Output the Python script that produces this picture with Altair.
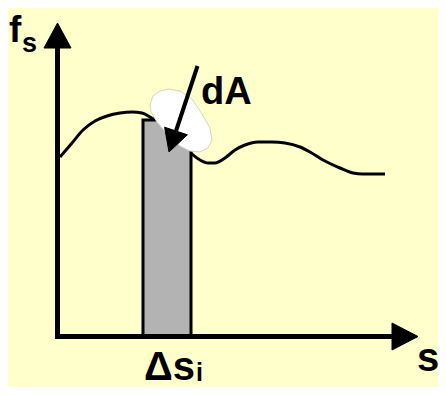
import altair as alt
import pandas as pd

# ---- data (s, f_s units; origin at the axes corner) ----
curve_s = [2, 14, 25, 37, 49, 62, 74, 84, 92, 107, 122, 134, 142, 150, 157, 167, 177, 187,
           200, 214, 227, 242, 252, 265, 282, 295, 305, 327]
curve_f = [179, 193, 206, 215, 220, 223, 224, 223, 219, 209, 196, 182, 176, 173, 173, 178, 186, 191,
           194, 194, 193, 189, 184, 176, 168, 163, 162, 162]

bar_s0 = [85]
bar_s1 = [133]
bar_f = [216]

blob_s = [92, 95, 102, 110, 122, 134, 144, 152, 154, 150, 142, 132, 122, 110, 99, 93]
blob_f = [231, 240, 245, 247, 245, 237, 222, 208, 196, 188, 184, 185, 190, 201, 214, 224]

arrow_s = [139.5, 118]
arrow_f = [270, 205]
head_s = [106.6, 111, 129.4]
head_f = [208.8, 184, 201.2]

yhead_s = [-14, -0.5, 13]
yhead_f = [288, 313, 288]
xhead_s = [334, 360, 334]
xhead_f = [13, -0.5, -14]

labels = ["f", "s", "dA", "Δs", "i", "s"]
label_s = [-49, -36, 143, 86, 138, 359]
label_f = [294, 284, 232, -44, -45, -35]
label_size = [37, 27, 38, 40, 25, 40]

X = dict(scale=alt.Scale(domain=[-50, 380], nice=False, zero=False), axis=None)
Y = dict(scale=alt.Scale(domain=[-51, 328], nice=False, zero=False), axis=None)


def polygon(xs, ys, fill, stroke, sw):
    df = pd.DataFrame({"x": xs, "y": ys, "o": list(range(len(xs)))})
    return alt.Chart(df).mark_line(
        fill=fill, stroke=stroke, strokeWidth=sw, interpolate="linear-closed"
    ).encode(x=alt.X("x:Q", **X), y=alt.Y("y:Q", **Y), order="o:Q")


curve = alt.Chart(pd.DataFrame({"x": curve_s, "y": curve_f})).mark_line(
    color="black", strokeWidth=3, interpolate="monotone"
).encode(x=alt.X("x:Q", **X), y=alt.Y("y:Q", **Y))

bar = alt.Chart(pd.DataFrame({"x": bar_s0, "x2": bar_s1, "y": bar_f, "y2": [0]})).mark_rect(
    fill="#b3b3b3", stroke="black", strokeWidth=3
).encode(x=alt.X("x:Q", **X), x2="x2:Q", y=alt.Y("y:Q", **Y), y2="y2:Q")

blob = polygon(blob_s, blob_f, "white", "#d4d4c0", 1)
head = polygon(head_s, head_f, "black", "black", 1)
yhead = polygon(yhead_s, yhead_f, "black", "black", 1)
xhead = polygon(xhead_s, xhead_f, "black", "black", 1)

shaft = alt.Chart(pd.DataFrame({"x": arrow_s, "y": arrow_f})).mark_line(
    color="black", strokeWidth=4
).encode(x=alt.X("x:Q", **X), y=alt.Y("y:Q", **Y))

yaxis = alt.Chart(pd.DataFrame({"x": [-0.5], "y": [-2.5], "y2": [290]})).mark_rule(
    color="black", strokeWidth=5
).encode(x=alt.X("x:Q", **X), y=alt.Y("y:Q", **Y), y2="y2:Q")

xaxis = alt.Chart(pd.DataFrame({"x": [-3], "x2": [336], "y": [-0.5]})).mark_rule(
    color="black", strokeWidth=5
).encode(x=alt.X("x:Q", **X), x2="x2:Q", y=alt.Y("y:Q", **Y))

text = alt.Chart(pd.DataFrame({"x": label_s, "y": label_f, "t": labels, "size": label_size})).mark_text(
    align="left", baseline="alphabetic", font="Liberation Sans", fontWeight="bold", color="black"
).encode(x=alt.X("x:Q", **X), y=alt.Y("y:Q", **Y), text="t:N", size=alt.Size("size:Q", scale=None))

chart = alt.layer(curve, bar, blob, shaft, head, yaxis, xaxis, yhead, xhead, text).properties(
    width=430, height=379,
    autosize=alt.AutoSizeParams(type="none"),
    padding=0,
    background="#FFFFCC",
).configure_view(stroke=None)

chart.save("out.html", embed_options={"renderer": "svg", "actions": False})
